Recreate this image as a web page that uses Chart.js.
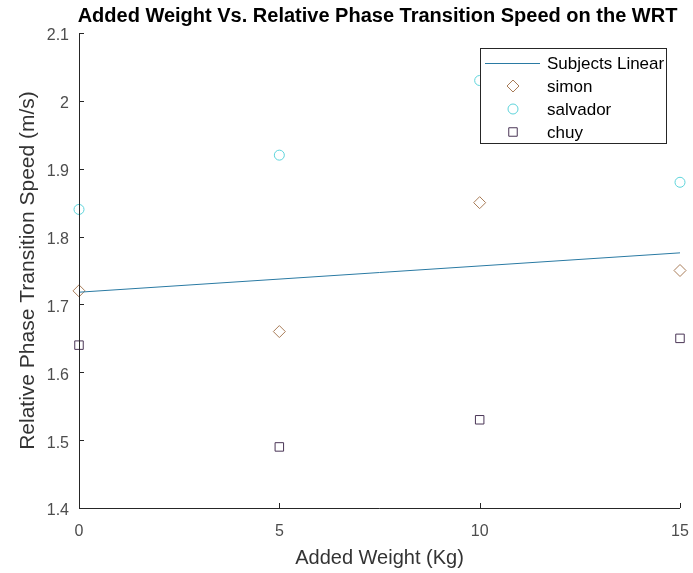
<!DOCTYPE html>
<html>
<head>
<meta charset="utf-8">
<script src="https://cdn.jsdelivr.net/npm/chart.js@4/dist/chart.umd.min.js"></script>
<style>
html,body{margin:0;padding:0;background:#fff;}
#wrap{width:693px;height:573px;}
</style>
</head>
<body>
<div id="wrap"><canvas id="c" width="693" height="573"></canvas></div>
<script>
const weights = [0, 5, 10, 15];
const simon = [1.72, 1.66, 1.85, 1.75];
const salvador = [1.84, 1.92, 2.03, 1.88];
const chuy = [1.64, 1.49, 1.53, 1.65];
const linearX = [0, 15];
const linearY = [1.718, 1.776];
const xTicks = [0, 5, 10, 15];
const yTicks = ['1.4', '1.5', '1.6', '1.7', '1.8', '1.9', '2', '2.1'];
const titleText = 'Added Weight Vs. Relative Phase Transition Speed on the WRT';
const xTitle = 'Added Weight (Kg)';
const yTitle = 'Relative Phase Transition Speed (m/s)';

const pts = (xs, ys) => xs.map((x, i) => ({x: x, y: ys[i]}));

const FONT = '"Liberation Sans", Arial, Helvetica, sans-serif';

const custom = {
  id: 'custom',
  afterDraw(chart) {
    const ctx = chart.ctx;
    const a = chart.chartArea;
    const xs = chart.scales.x, ys = chart.scales.y;
    ctx.save();
    // axes lines
    ctx.strokeStyle = '#262626';
    ctx.lineWidth = 1;
    ctx.beginPath();
    ctx.moveTo(Math.round(a.left) + 0.5, a.top);
    ctx.lineTo(Math.round(a.left) + 0.5, Math.round(a.bottom) + 0.5);
    ctx.lineTo(a.right, Math.round(a.bottom) + 0.5);
    ctx.stroke();
    // inward ticks
    ctx.beginPath();
    xTicks.forEach(v => {
      const px = Math.round(xs.getPixelForValue(v)) + 0.5;
      ctx.moveTo(px, a.bottom);
      ctx.lineTo(px, a.bottom - 5);
    });
    yTicks.forEach(t => {
      const py = Math.round(ys.getPixelForValue(parseFloat(t))) + 0.5;
      ctx.moveTo(a.left, py);
      ctx.lineTo(a.left + 5, py);
    });
    ctx.stroke();
    // title
    ctx.fillStyle = '#000';
    ctx.font = 'bold 20px ' + FONT;
    ctx.textAlign = 'center';
    ctx.textBaseline = 'middle';
    ctx.fillText(titleText, (a.left + a.right) / 2 - 2, 16);
    // axis titles
    ctx.fillStyle = '#333';
    ctx.font = '20px ' + FONT;
    ctx.fillText(xTitle, (a.left + a.right) / 2, 558);
    ctx.save();
    ctx.font = '21px ' + FONT;
    ctx.translate(28, (a.top + a.bottom) / 2);
    ctx.rotate(-Math.PI / 2);
    ctx.fillText(yTitle, 0, 0);
    ctx.restore();
    // legend
    const lx = 480, ly = 48, lw = 186, lh = 95;
    ctx.fillStyle = '#fff';
    ctx.fillRect(lx, ly, lw, lh);
    ctx.strokeStyle = '#262626';
    ctx.lineWidth = 1;
    ctx.strokeRect(lx + 0.5, ly + 0.5, lw, lh);
    ctx.font = '17px ' + FONT;
    ctx.textAlign = 'left';
    ctx.textBaseline = 'middle';
    const rows = chart.data.datasets;
    rows.forEach((ds, i) => {
      const cy = ly + 15 + i * 23;
      const sx = lx + 33;
      if (ds.showLine) {
        ctx.strokeStyle = ds.borderColor;
        ctx.lineWidth = 1;
        ctx.beginPath();
        ctx.moveTo(lx + 5, cy + 0.5);
        ctx.lineTo(lx + 60, cy + 0.5);
        ctx.stroke();
      } else {
        ctx.fillStyle = 'rgba(0,0,0,0)';
        ctx.strokeStyle = ds.pointBorderColor;
        ctx.lineWidth = 1;
        Chart.helpers.drawPoint(ctx, {
          pointStyle: ds.pointStyle, radius: ds.pointRadius,
          borderWidth: 1, rotation: 0
        }, sx, cy);
      }
      ctx.fillStyle = '#000';
      ctx.fillText(ds.label, lx + 67, cy + 1);
    });
    ctx.restore();
  }
};

new Chart(document.getElementById('c'), {
  type: 'scatter',
  data: {
    datasets: [
      {
        label: 'Subjects Linear',
        data: pts(linearX, linearY),
        showLine: true,
        borderColor: '#2a7aa3',
        borderWidth: 1,
        pointRadius: 0,
        fill: false,
        clip: false
      },
      {
        label: 'simon',
        data: pts(weights, simon),
        pointStyle: 'rectRot',
        pointRadius: 6,
        pointBorderColor: '#a87c58',
        pointBackgroundColor: 'rgba(0,0,0,0)',
        pointBorderWidth: 1,
        borderColor: '#a87c58',
        clip: false
      },
      {
        label: 'salvador',
        data: pts(weights, salvador),
        pointStyle: 'circle',
        pointRadius: 5,
        pointBorderColor: '#5dd4db',
        pointBackgroundColor: 'rgba(0,0,0,0)',
        pointBorderWidth: 1,
        borderColor: '#5dd4db',
        clip: false
      },
      {
        label: 'chuy',
        data: pts(weights, chuy),
        pointStyle: 'rect',
        pointRadius: 6,
        pointBorderColor: '#4a3556',
        pointBackgroundColor: 'rgba(0,0,0,0)',
        pointBorderWidth: 1,
        borderColor: '#4a3556',
        clip: false
      }
    ]
  },
  options: {
    responsive: false,
    animation: false,
    devicePixelRatio: 1,
    layout: {autoPadding: false, padding: {left: 0, right: 13, top: 33, bottom: 0}},
    plugins: {
      legend: {display: false},
      title: {display: false},
      tooltip: {enabled: false}
    },
    scales: {
      x: {
        type: 'linear',
        min: 0, max: 15,
        afterBuildTicks: s => { s.ticks = xTicks.map(v => ({value: v})); },
        afterFit: s => { s.height = 65; s.paddingLeft = 0; s.paddingRight = 0; },
        grid: {display: false, drawTicks: false},
        border: {display: false},
        ticks: {
          color: '#4d4d4d',
          font: {family: FONT, size: 16},
          padding: 14,
          maxRotation: 0,
          callback: v => String(v)
        },
        title: {display: false}
      },
      y: {
        type: 'linear',
        min: 1.4, max: 2.1,
        afterBuildTicks: s => { s.ticks = yTicks.map(t => ({value: parseFloat(t)})); },
        afterFit: s => { s.width = 79; s.paddingTop = 0; s.paddingBottom = 0; },
        grid: {display: false, drawTicks: false},
        border: {display: false},
        ticks: {
          color: '#4d4d4d',
          font: {family: FONT, size: 16},
          padding: 10,
          labelOffset: 3,
          callback: (v, i) => yTicks[i]
        },
        title: {display: false}
      }
    }
  },
  plugins: [custom]
});
</script>
</body>
</html>
